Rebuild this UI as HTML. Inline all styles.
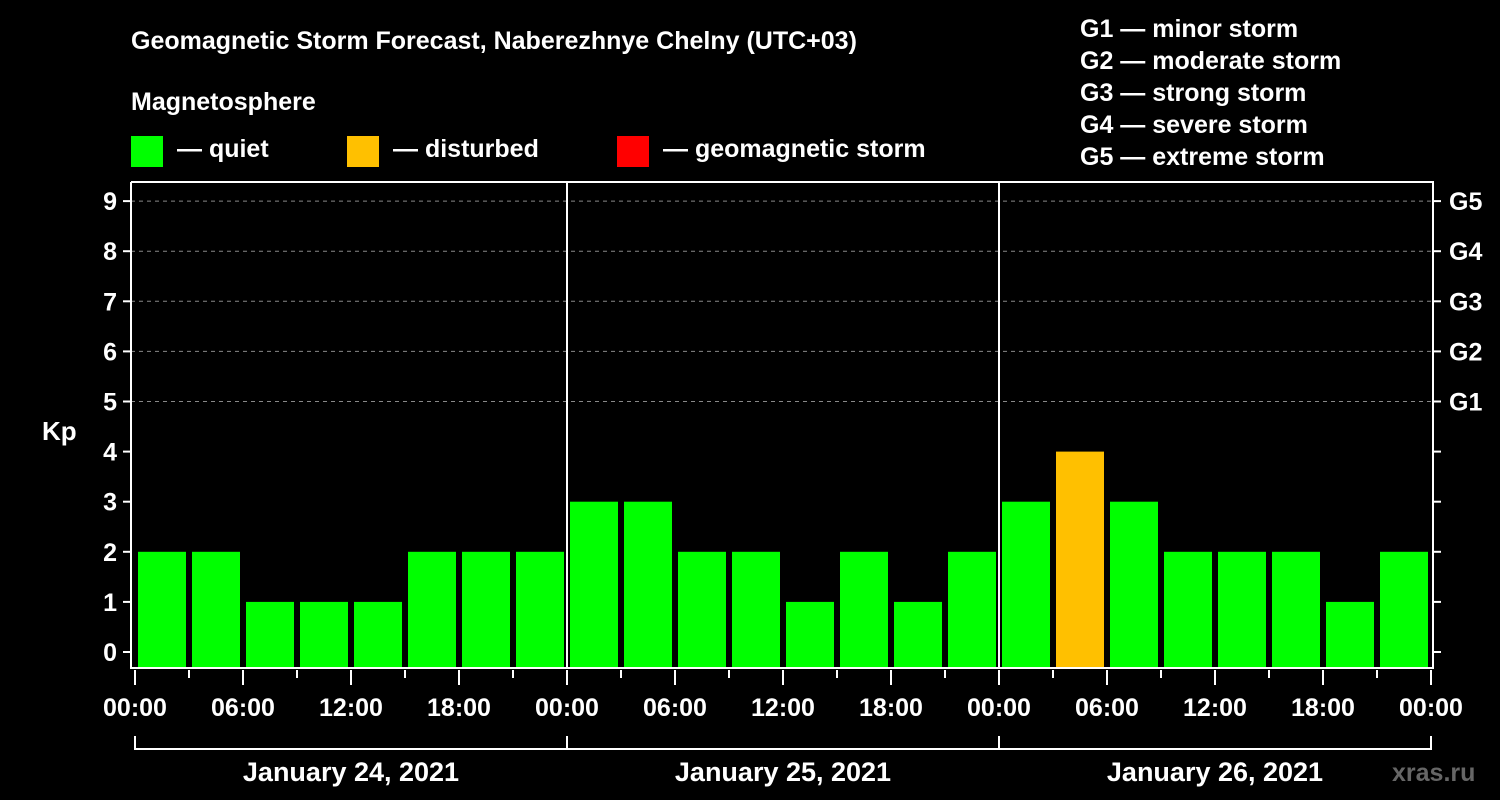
<!DOCTYPE html>
<html><head><meta charset="utf-8"><style>
html,body{margin:0;padding:0;background:#000;}
svg{display:block;font-family:"Liberation Sans",sans-serif;font-weight:bold;}
</style></head><body>
<svg id="c" width="1500" height="800" viewBox="0 0 1500 800">
<rect width="1500" height="800" fill="#000"/>
<text x="131" y="49" fill="#fff" font-size="25">Geomagnetic Storm Forecast, Naberezhnye Chelny (UTC+03)</text>
<text x="131" y="110" fill="#fff" font-size="25">Magnetosphere</text>
<g><rect x="131" y="136" width="32" height="31" fill="#00ff00"/><text x="177" y="157" fill="#fff" font-size="25">— quiet</text></g>
<g><rect x="347" y="136" width="32" height="31" fill="#ffc000"/><text x="393" y="157" fill="#fff" font-size="25">— disturbed</text></g>
<g><rect x="617" y="136" width="32" height="31" fill="#ff0000"/><text x="663" y="157" fill="#fff" font-size="25">— geomagnetic storm</text></g>
<g fill="#fff" font-size="25">
<text x="1080" y="37">G1 — minor storm</text>
<text x="1080" y="69">G2 — moderate storm</text>
<text x="1080" y="101">G3 — strong storm</text>
<text x="1080" y="133">G4 — severe storm</text>
<text x="1080" y="165">G5 — extreme storm</text>
</g>
<text x="42" y="440" fill="#fff" font-size="26">Kp</text>
<text x="1392" y="781" fill="#666" font-size="25">xras.ru</text>
<g id="plot"></g>
</svg>
<script>
const kpValues=[2,2,1,1,1,2,2,2, 3,3,2,2,1,2,1,2, 3,4,3,2,2,2,1,2];
const dayLabels=["January 24, 2021","January 25, 2021","January 26, 2021"];
const hourLabels=["00:00","06:00","12:00","18:00"];
const yTicks=[0,1,2,3,4,5,6,7,8,9];
const gLabels=["G1","G2","G3","G4","G5"];
const NS="http://www.w3.org/2000/svg";
const g=document.getElementById('plot');
const X0=135,HOUR=18,L=131,R=1433,TOP=182,BOT=668;
const xs=h=>X0+h*HOUR;
const ys=v=>652-v*50.1;
function mk(t,a,p){const e=document.createElementNS(NS,t);for(const k in a)e.setAttribute(k,a[k]);(p||g).appendChild(e);return e;}
// grid
[5,6,7,8,9].forEach(v=>{
const e=mk('line',{x1:L,x2:R,y1:ys(v),y2:ys(v),stroke:'#888','stroke-dasharray':'4,4','stroke-width':1});


});
// bars
kpValues.forEach((v,i)=>{
const col=v>=5?'#ff0000':(v>=4?'#ffc000':'#00ff00');
const e=mk('rect',{x:xs(i*3)+3,y:ys(v),width:3*HOUR-6,height:BOT-ys(v),fill:col});


});
// day separators
[1,2].forEach(d=>{
const e=mk('line',{x1:xs(d*24),x2:xs(d*24),y1:TOP,y2:BOT,stroke:'#fff','stroke-width':2});


});
// frame
const f=mk('path',{d:`M${L} ${TOP}V${BOT}H${R}V${TOP}H${L}`,fill:'none',stroke:'#fff','stroke-width':2});


// y ticks
yTicks.forEach(v=>{
mk('line',{x1:L-8,x2:L,y1:ys(v),y2:ys(v),stroke:'#fff','stroke-width':2});
mk('line',{x1:R,x2:R+8,y1:ys(v),y2:ys(v),stroke:'#fff','stroke-width':2});
const t=mk('text',{x:L-14,y:ys(v)+9,fill:'#fff','font-size':25,'text-anchor':'end'});
t.textContent=v;


});
gLabels.forEach((s,i)=>{
const t=mk('text',{x:1449,y:ys(5+i)+9,fill:'#fff','font-size':25});
t.textContent=s;


});
// x ticks
for(let h=0;h<=72;h+=3){
const major=h%6===0;
mk('line',{x1:xs(h),x2:xs(h),y1:BOT+2,y2:BOT+(major?17:10),stroke:'#fff','stroke-width':2});
if(major){
const t=mk('text',{x:xs(h),y:716,fill:'#fff','font-size':25,'text-anchor':'middle'});
t.textContent=hourLabels[(h/6)%4];


}
}
// day brackets
mk('path',{d:`M${xs(0)} 736V749H${xs(72)}V736`,fill:'none',stroke:'#fff','stroke-width':2});
[1,2].forEach(d=>mk('line',{x1:xs(d*24),x2:xs(d*24),y1:736,y2:749,stroke:'#fff','stroke-width':2}));
dayLabels.forEach((s,i)=>{
const t=mk('text',{x:xs(i*24+12),y:781,fill:'#fff','font-size':27,'text-anchor':'middle'});
t.textContent=s;


});
</script>
</body></html>
